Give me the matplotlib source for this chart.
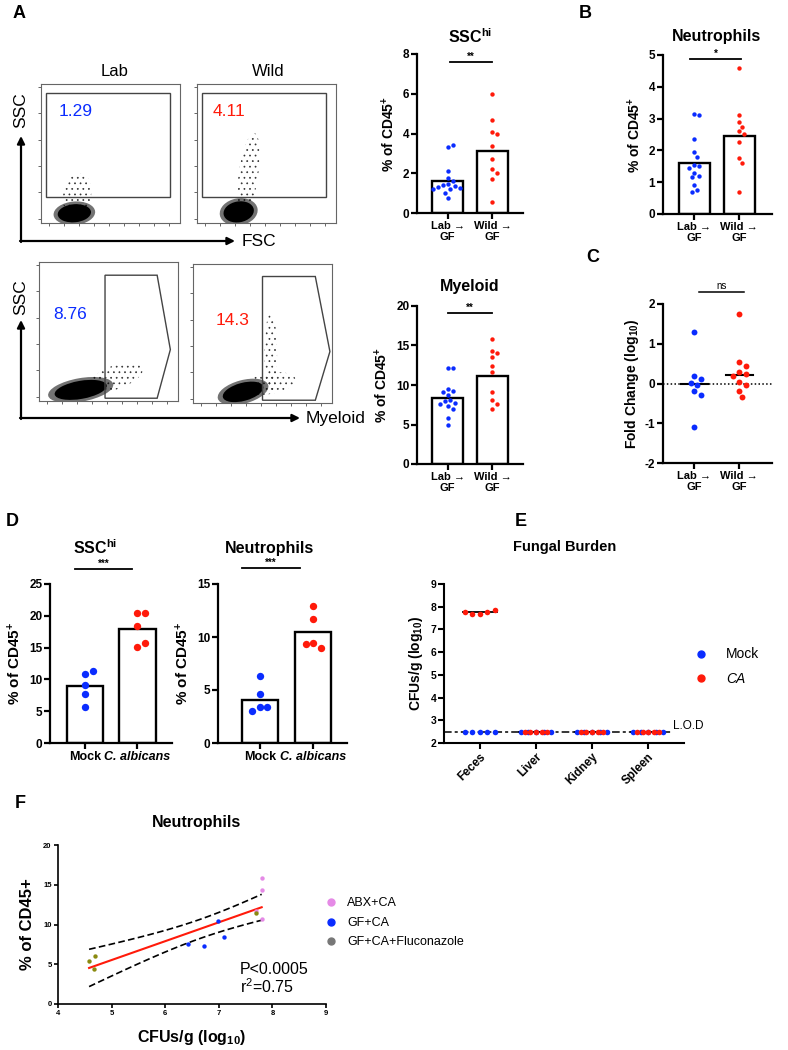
import matplotlib
matplotlib.use('Agg')
import matplotlib.pyplot as plt
import numpy as np
from matplotlib.patches import Ellipse, Rectangle, Polygon
from matplotlib.lines import Line2D

plt.rcParams['font.family'] = ['Liberation Sans', 'DejaVu Sans']
plt.rcParams['mathtext.fontset'] = 'custom'
plt.rcParams['mathtext.rm'] = 'Liberation Sans'
plt.rcParams['mathtext.bf'] = 'Liberation Sans:bold'
plt.rcParams['mathtext.it'] = 'Liberation Sans:italic'
plt.rcParams['hatch.linewidth'] = 0.5

BLUE = '#0a2cff'
RED = '#ff1a0a'

# ---- data ----
flow_pct = ['1.29', '4.11', '8.76', '14.3']
flow_cols = [BLUE, RED, BLUE, RED]

ssc_lab = [3.3, 3.4, 2.1, 1.75, 1.6, 1.45, 1.4, 1.35, 1.3, 1.25, 1.2, 1.2, 1.0, 0.75]
ssc_wild = [6.0, 4.7, 4.1, 3.95, 3.35, 2.7, 2.2, 2.0, 1.7, 0.55]
ssc_bar = [1.6, 3.1]

neu_lab = [3.15, 3.1, 2.35, 1.95, 1.8, 1.55, 1.5, 1.45, 1.3, 1.2, 1.15, 0.9, 0.75, 0.7]
neu_wild = [4.6, 3.1, 2.9, 2.75, 2.6, 2.5, 2.25, 1.75, 1.6, 0.7]
neu_bar = [1.6, 2.45]

mye_lab = [12.1, 12.2, 9.45, 9.2, 9.15, 8.7, 8.1, 8.0, 7.7, 7.6, 7.3, 7.0, 5.8, 5.0]
mye_wild = [15.8, 14.3, 14.1, 13.5, 12.4, 11.6, 9.1, 8.1, 7.6, 7.0]
mye_bar = [8.3, 11.2]

fold_lab = [1.3, 0.18, 0.12, 0.02, -0.04, -0.2, -0.28, -1.1]
fold_wild = [1.75, 0.55, 0.45, 0.3, 0.25, 0.2, 0.05, -0.05, -0.2, -0.35]

transfer_labels = ['Lab \u2192\nGF', 'Wild \u2192\nGF']

d_ssc_mock = [10.8, 11.35, 9.05, 7.75, 5.6]
d_ssc_ca = [20.5, 20.5, 18.45, 15.05, 15.7]
d_ssc_bar = [8.9, 17.95]
d_neu_mock = [6.35, 4.6, 3.4, 3.4, 3.05]
d_neu_ca = [12.9, 11.7, 9.4, 8.95, 9.35]
d_neu_bar = [4.1, 10.45]
d_labels = ['Mock', 'C. albicans']

organs = ['Feces', 'Liver', 'Kidney', 'Spleen']
mock_cfu = [[2.5, 2.5, 2.5, 2.5, 2.5], [2.5, 2.5, 2.5, 2.5, 2.5],
            [2.5, 2.5, 2.5, 2.5, 2.5], [2.5, 2.5, 2.5, 2.5, 2.5]]
ca_cfu = [[7.75, 7.7, 7.68, 7.75, 7.85], [2.5, 2.5, 2.5, 2.5, 2.5],
          [2.5, 2.5, 2.5, 2.5, 2.5], [2.5, 2.5, 2.5, 2.5, 2.5]]
lod = 2.5

abx_x = [7.8, 7.8, 7.69, 7.8]
abx_y = [15.9, 14.3, 11.7, 10.7]
gf_x = [6.99, 6.42, 6.73, 7.09]
gf_y = [10.4, 7.5, 7.34, 8.43]
flu_x = [4.58, 4.69, 4.68, 7.69]
flu_y = [5.45, 6.08, 4.40, 11.5]
t_crit = 2.228  # df = 10

W, H = 788, 1050
fig = plt.figure(figsize=(7.88, 10.5), dpi=100)


def box(x0, y0, x1, y1):
    return [x0 / W, 1 - y1 / H, (x1 - x0) / W, (y1 - y0) / H]


# overlay in pixel coords for labels / arrows
ov = fig.add_axes([0, 0, 1, 1])
ov.set_xlim(0, W)
ov.set_ylim(H, 0)
ov.axis('off')


def swarm(ax, xc, vals, d):
    tr = ax.transData
    pts = tr.transform(np.column_stack([np.full(len(vals), float(xc)), vals]))
    steps = [0.0]
    for j in range(1, 40):
        steps += [j * d * 0.5, -j * d * 0.5]
    placed, xs = [], []
    for px, py in pts:
        for off in steps:
            if all((px + off - qx) ** 2 + (py - qy) ** 2 >= d * d for qx, qy in placed):
                break
        placed.append((px + off, py))
        xs.append(tr.inverted().transform((px + off, py))[0])
    return xs


def prism(ax, yticks, tsize=8.5, lw=1.6):
    for s in ['top', 'right']:
        ax.spines[s].set_visible(False)
    for s in ['left', 'bottom']:
        ax.spines[s].set_linewidth(lw)
    ax.tick_params(width=lw, length=4, pad=1.5)
    ax.set_yticks(yticks)
    ax.set_yticklabels([str(t) for t in yticks], fontweight='bold', fontsize=tsize)


def dot_bar(ax, bars, groups, xlim, ylim, yticks, labels, s, d, tsize=8.5, lsize=8):
    ax.set_xlim(xlim)
    ax.set_ylim(ylim)
    ax.bar([0, 1], bars, width=0.69, facecolor='white', edgecolor='k', linewidth=1.7, zorder=1)
    for i, (vals, c) in enumerate(zip(groups, [BLUE, RED])):
        ax.scatter(swarm(ax, i, vals, d), vals, s=s, color=c, linewidths=0, zorder=3)
    prism(ax, yticks, tsize)
    ax.set_xticks([0, 1])
    ax.set_xticklabels(labels, fontweight='bold', fontsize=lsize, multialignment='center')


def sig(ax, x0, x1, y, txt, size=7):
    ax.plot([x0, x1], [y, y], color='k', lw=1.3, clip_on=False)
    ax.text((x0 + x1) / 2, y, txt, ha='center', va='bottom', fontsize=size, fontweight='bold')


# ---- panel A flow plots ----
flow_rects = [box(41, 84, 180, 223), box(197, 84, 336, 223),
              box(39, 262, 178, 401), box(193, 264, 332, 403)]
pct_pos = [(0.13, 0.80), (0.115, 0.80), (0.10, 0.62), (0.165, 0.59)]
cores = [[(0.24, 0.07, 0.24, 0.13, 5)], [(0.3, 0.08, 0.22, 0.15, 10)],
         [(0.3, 0.08, 0.38, 0.13, 10)], [(0.36, 0.08, 0.3, 0.13, 15)]]
halos = [[(0.26, 0.2, 0.2, 0.32, -10)], [(0.37, 0.35, 0.14, 0.6, -8)],
         [(0.55, 0.17, 0.42, 0.17, 20)], [(0.56, 0.36, 0.09, 0.58, 0), (0.55, 0.14, 0.38, 0.15, 10)]]
for k, rect in enumerate(flow_rects):
    ax = fig.add_axes(rect)
    ax.set_xlim(0, 1)
    ax.set_ylim(0, 1)
    for s in ax.spines.values():
        s.set_color('#666666')
        s.set_linewidth(0.8)
    ax.set_xticks(np.arange(0.06, 1, 0.108))
    ax.set_yticks(np.arange(0.03, 1, 0.19))
    ax.tick_params(length=2.5, width=0.7, color='#666666', labelbottom=False, labelleft=False)
    for (cx, cy, w, h, a) in halos[k]:
        ax.add_patch(Ellipse((cx, cy), w, h, angle=a, fill=False, hatch='...',
                             edgecolor='#333333', lw=0))
    for (cx, cy, w, h, a) in cores[k]:
        ax.add_patch(Ellipse((cx, cy), w * 1.25, h * 1.3, angle=a, color='k', alpha=0.55, lw=0))
        ax.add_patch(Ellipse((cx, cy), w, h, angle=a, color='k', lw=0))
    if k < 2:
        ax.add_patch(Rectangle((0.036, 0.19), 0.894, 0.745, fill=False, ec='#444444', lw=1.0))
    elif k == 2:
        ax.add_patch(Polygon([(0.475, 0.905), (0.85, 0.905), (0.945, 0.37), (0.85, 0.02),
                              (0.475, 0.02)], closed=True, fill=False, ec='#444444', lw=1.0))
    else:
        ax.add_patch(Polygon([(0.5, 0.91), (0.88, 0.91), (0.985, 0.37), (0.88, 0.02),
                              (0.5, 0.02)], closed=True, fill=False, ec='#444444', lw=1.0))
    ax.text(pct_pos[k][0], pct_pos[k][1], flow_pct[k], color=flow_cols[k], fontsize=12.5,
            ha='left', va='center', transform=ax.transAxes)

ov.text(115, 72, 'Lab', ha='center', va='center', fontsize=12)
ov.text(268, 72, 'Wild', ha='center', va='center', fontsize=12)
arrow = dict(arrowstyle='-|>', lw=1.6, color='k', mutation_scale=11, shrinkA=0, shrinkB=0)
ov.annotate('', xy=(21, 136), xytext=(21, 242), arrowprops=arrow)
ov.annotate('', xy=(235, 241), xytext=(20, 241), arrowprops=arrow)
ov.text(21, 110, 'SSC', rotation=90, ha='center', va='center', fontsize=12.5)
ov.text(242, 241, 'FSC', ha='left', va='center', fontsize=12.5)
ov.annotate('', xy=(21, 320), xytext=(21, 419), arrowprops=arrow)
ov.annotate('', xy=(300, 418), xytext=(20, 418), arrowprops=arrow)
ov.text(21, 297, 'SSC', rotation=90, ha='center', va='center', fontsize=12.5)
ov.text(306, 418, 'Myeloid', ha='left', va='center', fontsize=12.5)

# panel letters and titles
for txt, x, y in [('A', 19, 14), ('B', 585, 14), ('C', 593, 257), ('D', 12, 522),
                  ('E', 521, 522), ('F', 20, 803)]:
    ov.text(x, y, txt, ha='center', va='center', fontsize=13, fontweight='bold')
title_kw = dict(ha='center', va='center', fontsize=11.5, fontweight='bold')
ov.text(470, 37, r'SSC$^{\mathbf{hi}}$', **title_kw)
ov.text(717, 37, 'Neutrophils', **title_kw)
ov.text(470, 286, 'Myeloid', **title_kw)
ov.text(95, 548, r'SSC$^{\mathbf{hi}}$', **title_kw)
ov.text(270, 548, 'Neutrophils', **title_kw)
ov.text(565, 547, 'Fungal Burden', ha='center', va='center', fontsize=10.5, fontweight='bold')
ov.text(197, 822, 'Neutrophils', **title_kw)

ylab = r'% of CD45$^{\mathbf{+}}$'

# ---- SSChi (A) ----
ax = fig.add_axes(box(417, 54, 523, 213))
dot_bar(ax, ssc_bar, [ssc_lab, ssc_wild], (-0.68, 1.68), (0, 8), [0, 2, 4, 6, 8],
        transfer_labels, 10, 5.0)
ax.set_ylabel(ylab, fontsize=10, fontweight='bold', labelpad=4)
sig(ax, 0.05, 1.0, 7.6, '**')

# ---- Neutrophils (B) ----
ax = fig.add_axes(box(663, 55, 772, 214))
dot_bar(ax, neu_bar, [neu_lab, neu_wild], (-0.69, 1.73), (0, 5), [0, 1, 2, 3, 4, 5],
        transfer_labels, 10, 5.0)
ax.set_ylabel(ylab, fontsize=10, fontweight='bold', labelpad=4)
sig(ax, -0.1, 1.05, 4.87, '*')

# ---- Myeloid (A) ----
ax = fig.add_axes(box(417, 306, 523, 464))
dot_bar(ax, mye_bar, [mye_lab, mye_wild], (-0.68, 1.68), (0, 20), [0, 5, 10, 15, 20],
        transfer_labels, 10, 5.0)
ax.set_ylabel(ylab, fontsize=10, fontweight='bold', labelpad=4)
sig(ax, 0.0, 1.0, 19.1, '**')

# ---- Fold change (C) ----
ax = fig.add_axes(box(663, 304, 772, 463))
ax.set_xlim(-0.69, 1.73)
ax.set_ylim(-2, 2)
ax.axhline(0, ls=(0, (1, 1.5)), color='k', lw=1.1, zorder=1)
for i, (vals, c) in enumerate(zip([fold_lab, fold_wild], [BLUE, RED])):
    ax.scatter(swarm(ax, i, vals, 6.5), vals, s=18, color=c, linewidths=0, zorder=3)
    ax.plot([i - 0.3, i + 0.3], [np.median(vals)] * 2, color='k', lw=1.5, zorder=2)
prism(ax, [-2, -1, 0, 1, 2])
ax.set_xticks([0, 1])
ax.set_xticklabels(transfer_labels, fontweight='bold', fontsize=8, multialignment='center')
ax.set_ylabel(r'Fold Change (log$_{\mathbf{10}}$)', fontsize=10, fontweight='bold', labelpad=3)
ax.plot([0.1, 1.1], [2.3, 2.3], color='k', lw=1.1, clip_on=False)
ax.text(0.6, 2.33, 'ns', ha='center', va='bottom', fontsize=7)

# ---- D ----
ax = fig.add_axes(box(50, 584, 172, 743))
dot_bar(ax, d_ssc_bar, [d_ssc_mock, d_ssc_ca], (-0.67, 1.66), (0, 25), [0, 5, 10, 15, 20, 25],
        d_labels, 28, 7.5, tsize=8.5, lsize=9)
ax.get_xticklabels()[1].set_fontstyle('italic')
ax.set_ylabel(ylab, fontsize=11, fontweight='bold', labelpad=4)
sig(ax, -0.2, 0.9, 27.4, '***')

ax = fig.add_axes(box(218, 584, 347, 743))
dot_bar(ax, d_neu_bar, [d_neu_mock, d_neu_ca], (-0.79, 1.64), (0, 15), [0, 5, 10, 15],
        d_labels, 28, 7.5, tsize=8.5, lsize=9)
ax.get_xticklabels()[1].set_fontstyle('italic')
ax.set_ylabel(ylab, fontsize=11, fontweight='bold', labelpad=4)
sig(ax, -0.33, 0.75, 16.5, '***')

# ---- E ----
ax = fig.add_axes(box(444, 584, 684, 743))
ax.set_xlim(-0.64, 3.64)
ax.set_ylim(2, 9)
ax.plot([-0.64, 3.4], [lod, lod], color='k', lw=1.1, ls=(0, (5, 2, 2, 2)), zorder=1)
ax.text(3.45, lod, 'L.O.D', ha='left', va='bottom', fontsize=8.5)
for i in range(len(organs)):
    ax.plot([i - 0.3, i + 0.3], [np.median(ca_cfu[i])] * 2, color='k', lw=1.3, zorder=2)
    ax.scatter(i + np.linspace(-0.27, 0.27, len(mock_cfu[i])), mock_cfu[i], s=16,
               color=BLUE, linewidths=0, zorder=3)
    spread = 0.27 if i == 0 else 0.2
    ax.scatter(i + np.linspace(-spread, spread, len(ca_cfu[i])), ca_cfu[i], s=16,
               color=RED, linewidths=0, zorder=4)
prism(ax, list(range(2, 10)), tsize=7.5, lw=1.5)
ax.set_xticks(range(len(organs)))
ax.set_xticklabels(organs, rotation=45, ha='right', rotation_mode='anchor',
                   fontweight='bold', fontsize=8.5)
ax.set_ylabel(r'CFUs/g (log$_{\mathbf{10}}$)', fontsize=10, fontweight='bold', labelpad=4)
hs = [Line2D([], [], ls='', marker='o', ms=5, color=BLUE),
      Line2D([], [], ls='', marker='o', ms=5, color=RED)]
leg = ax.legend(hs, ['Mock', 'CA'], loc='center left', bbox_to_anchor=(0.96, 0.48),
                frameon=False, fontsize=10, handletextpad=0.8, labelspacing=0.75)
leg.get_texts()[1].set_fontstyle('italic')

# ---- F ----
ax = fig.add_axes(box(58, 845, 326, 1004))
ax.set_xlim(4, 9)
ax.set_ylim(0, 20)
all_x = np.array(abx_x + gf_x + flu_x)
all_y = np.array(abx_y + gf_y + flu_y)
slope, icpt = np.polyfit(all_x, all_y, 1)
resid = all_y - (slope * all_x + icpt)
n = len(all_x)
s_err = np.sqrt(np.sum(resid ** 2) / (n - 2))
xx = np.linspace(all_x.min(), all_x.max(), 60)
yy = slope * xx + icpt
half = t_crit * s_err * np.sqrt(1 / n + (xx - all_x.mean()) ** 2 / np.sum((all_x - all_x.mean()) ** 2))
ax.plot(xx, yy + half, color='k', lw=1.2, ls=(0, (4, 2)))
ax.plot(xx, yy - half, color='k', lw=1.2, ls=(0, (4, 2)))
ax.scatter(abx_x, abx_y, s=10, color='#e58ae6', linewidths=0, zorder=3)
ax.scatter(gf_x, gf_y, s=10, color=BLUE, linewidths=0, zorder=3)
ax.scatter(flu_x, flu_y, s=10, color='#8a8a10', linewidths=0, zorder=3)
ax.plot(xx, yy, color=RED, lw=1.5, zorder=2)
prism(ax, [0, 5, 10, 15, 20], tsize=5.5, lw=1.2)
ax.tick_params(length=3)
ax.set_xticks([4, 5, 6, 7, 8, 9])
ax.set_xticklabels(['4', '5', '6', '7', '8', '9'], fontweight='bold', fontsize=5.5)
ax.set_ylabel('% of CD45+', fontsize=12, fontweight='bold', labelpad=6)
ax.set_xlabel(r'CFUs/g (log$_{\mathbf{10}}$)', fontsize=11.5, fontweight='bold', labelpad=8)
ax.text(0.68, 0.22, 'P<0.0005', transform=ax.transAxes, fontsize=11.5, va='center')
ax.text(0.68, 0.11, r'r$^{2}$=0.75', transform=ax.transAxes, fontsize=11.5, va='center')
hs = [Line2D([], [], ls='', marker='o', ms=5, color='#e58ae6'),
      Line2D([], [], ls='', marker='o', ms=5, color=BLUE),
      Line2D([], [], ls='', marker='o', ms=5, color='#777777')]
ax.legend(hs, ['ABX+CA', 'GF+CA', 'GF+CA+Fluconazole'], loc='center left',
          bbox_to_anchor=(0.93, 0.51), frameon=False, fontsize=9, handletextpad=0.3,
          labelspacing=0.6)

fig.savefig('out.png', dpi=100)
